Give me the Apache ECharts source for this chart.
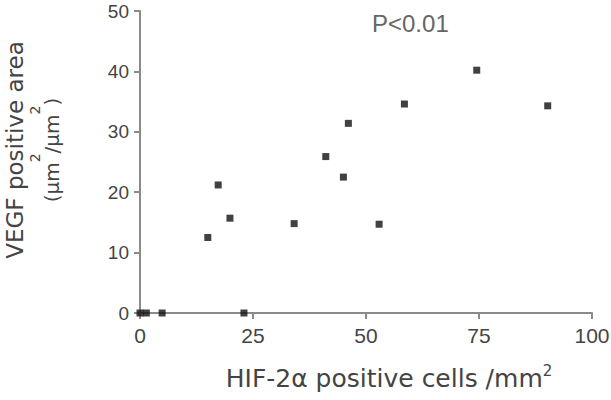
<!DOCTYPE HTML>
<html>

<head>
	<meta charset="utf-8">
	<script src="https://cdn.jsdelivr.net/npm/echarts@6/dist/echarts.min.js"></script>
	<style>
		html, body { margin: 0; padding: 0; background: #fff; }
		#scatter { width: 611px; height: 400px; }
	</style>
</head>

<body>
	<div id="scatter"></div>
</body>
<script type="text/javascript">
	// 数据: HIF-2α positive cells /mm2 与 VEGF positive area
	var hifCells = [0, 1.4, 4.9, 23.0, 15.0, 17.3, 19.9, 34.1, 41.1, 45.0, 46.1, 52.9, 58.5, 74.5, 90.2];
	var vegfArea = [0, 0, 0, 0, 12.5, 21.2, 15.7, 14.8, 25.9, 22.5, 31.4, 14.7, 34.6, 40.2, 34.3];
	var xTicks = [0, 25, 50, 75, 100];
	var yTicks = [0, 10, 20, 30, 40, 50];
	var pText = 'P<0.01';

	var points = [];
	for (var i = 0; i < hifCells.length; i++) {
		points.push([hifCells[i], vegfArea[i]]);
	}

	var axisGray = '#8a8a8a';
	var labelFont = '"Liberation Sans", Arial, sans-serif';
	var titleFont = '"DejaVu Sans", sans-serif';

	var scatterChart = echarts.init(document.getElementById('scatter'), null, { renderer: 'svg' });

	var option = {
		animation: false,
		backgroundColor: '#fff',
		title: {
			text: pText,
			left: 372,
			top: 11,
			padding: 0,
			textStyle: {
				fontFamily: labelFont,
				fontSize: 24,
				fontWeight: 'normal',
				color: '#666'
			}
		},
		grid: { //边距
			left: 140,
			right: 19,
			top: 11,
			bottom: 87,
			outerBoundsMode: 'none'
		},
		xAxis: {
			type: 'value',
			min: xTicks[0],
			max: xTicks[xTicks.length - 1],
			interval: xTicks[1] - xTicks[0],
			splitLine: { show: false },
			axisLine: { lineStyle: { color: axisGray, width: 2 } },
			axisTick: { length: 6, lineStyle: { color: axisGray, width: 2 } },
			axisLabel: { margin: 12, fontFamily: labelFont, fontSize: 21, color: '#444' },
			name: '{t|HIF-2α positive cells /mm}{s|2}',
			nameLocation: 'middle',
			nameGap: 50,
			nameTextStyle: {
				padding: [0, 0, 0, 46],
				rich: {
					t: { fontFamily: titleFont, fontSize: 25, lineHeight: 28, color: '#444', verticalAlign: 'bottom' },
					s: { fontFamily: titleFont, fontSize: 15, lineHeight: 16, color: '#444', verticalAlign: 'top' }
				}
			}
		},
		yAxis: {
			type: 'value',
			min: yTicks[0],
			max: yTicks[yTicks.length - 1],
			interval: yTicks[1] - yTicks[0],
			splitLine: { show: false },
			axisLine: { show: true, lineStyle: { color: axisGray, width: 2 } },
			axisTick: { show: true, length: 6, lineStyle: { color: axisGray, width: 2 } },
			axisLabel: { margin: 11, fontFamily: labelFont, fontSize: 19, color: '#444' },
			name: '{a|VEGF positive area}\n{b|(μm}{s|2}{b|/μm}{s|2}{b|)}',
			nameLocation: 'middle',
			nameGap: 78,
			nameTextStyle: {
				padding: [0, 0, 0, 24],
				rich: {
					a: { fontFamily: titleFont, fontSize: 23, lineHeight: 26, color: '#444' },
					b: { fontFamily: titleFont, fontSize: 20, lineHeight: 22, color: '#444', verticalAlign: 'bottom' },
					s: { fontFamily: titleFont, fontSize: 14, lineHeight: 34, color: '#444', verticalAlign: 'top' }
				}
			}
		},
		series: [{
			type: 'scatter',
			symbol: 'rect',
			symbolSize: 7,
			itemStyle: { color: '#111' },
			data: points
		}]
	};

	scatterChart.setOption(option);
</script>

</html>
